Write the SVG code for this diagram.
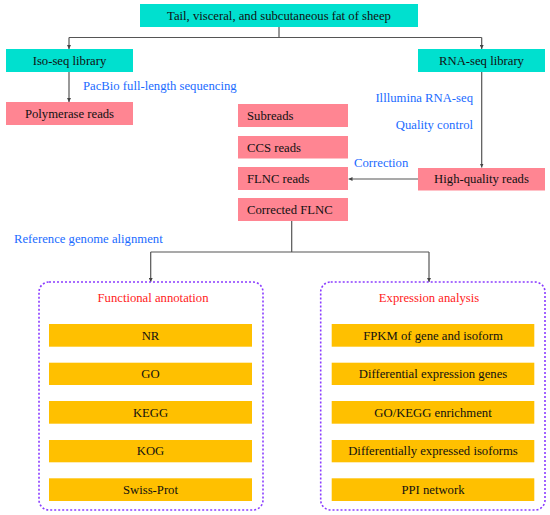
<svg xmlns="http://www.w3.org/2000/svg" width="550" height="515" viewBox="0 0 550 515" font-family="'Liberation Serif', 'Times New Roman', serif">
<defs>
<marker id="ah" viewBox="0 0 6 6" refX="6" refY="3" markerWidth="4" markerHeight="4" orient="auto" markerUnits="userSpaceOnUse">
<path d="M0,0 L6,3 L0,6 z" fill="#444"/>
</marker>
<style>
text{font-family:'Liberation Serif','Times New Roman',serif;font-size:12.7px;fill:#111;text-anchor:middle;dominant-baseline:central}
.cy{fill:#00e0cf}
.pk{fill:#ff8592}
.or{fill:#ffc000}
text.bl{fill:#1a6bff}
text.rd{fill:#ff2222}
.grp{fill:none;stroke:#8a3cff;stroke-width:1.6;stroke-dasharray:2 2}
.cn{fill:none;stroke:#555;stroke-width:1.2}
</style>
</defs>
<rect width="550" height="515" fill="#fff"/>
<g id="connectors">
<path class="cn" d="M279,27 V37.5"/>
<path class="cn" d="M69,37.5 H481.7"/>
<path class="cn" d="M69,37.5 V49" marker-end="url(#ah)"/>
<path class="cn" d="M481.7,37.5 V49" marker-end="url(#ah)"/>
<path class="cn" d="M69,72 V102" marker-end="url(#ah)"/>
<path class="cn" d="M481.7,72 V167.5" marker-end="url(#ah)"/>
<path class="cn" d="M418,179 H348.5" marker-end="url(#ah)"/>
<path class="cn" d="M291.7,221 V252 M150.7,252 H429"/>
<path class="cn" d="M150.7,252 V282" marker-end="url(#ah)"/>
<path class="cn" d="M429,252 V282" marker-end="url(#ah)"/>
</g>
<g id="top"><rect class="cy" x="140" y="4" width="278" height="23"/><text x="279" y="15.5">Tail, visceral, and subcutaneous fat of sheep</text></g>
<g id="iso"><rect class="cy" x="6" y="49" width="127" height="23"/><text x="69.5" y="60.5">Iso-seq library</text></g>
<g id="rna"><rect class="cy" x="418" y="49" width="127" height="23"/><text x="481.5" y="60.5">RNA-seq library</text></g>
<g id="poly"><rect class="pk" x="6" y="102" width="127" height="23"/><text x="69.5" y="113.5">Polymerase reads</text></g>
<g id="sub"><rect class="pk" x="238" y="104" width="110" height="23"/><text x="247" y="115.5" style="text-anchor:start">Subreads</text></g>
<g id="ccs"><rect class="pk" x="238" y="136" width="110" height="22.5"/><text x="247" y="147.5" style="text-anchor:start">CCS reads</text></g>
<g id="flnc"><rect class="pk" x="238" y="167" width="110" height="23"/><text x="247" y="178.5" style="text-anchor:start">FLNC reads</text></g>
<g id="cflnc"><rect class="pk" x="238" y="198" width="110" height="23"/><text x="247" y="209.5" style="text-anchor:start">Corrected FLNC</text></g>
<g id="hq"><rect class="pk" x="418" y="168" width="127" height="22.5"/><text x="481.5" y="179">High-quality reads</text></g>
<g id="labels">
<text class="bl" x="83" y="86" style="text-anchor:start">PacBio full-length sequencing</text>
<text class="bl" x="473" y="98" style="text-anchor:end">Illlumina RNA-seq</text>
<text class="bl" x="473" y="125" style="text-anchor:end">Quality control</text>
<text class="bl" x="354" y="163" style="text-anchor:start">Correction</text>
<text class="bl" x="14" y="239" style="text-anchor:start">Reference genome alignment</text>
</g>
<g id="functional">
<rect class="grp" x="39" y="282" width="224" height="228" rx="10"/>
<text class="rd" x="153" y="298">Functional annotation</text>
<rect class="or" x="49" y="324" width="203" height="22.7"/><text x="150.5" y="335.5">NR</text>
<rect class="or" x="49" y="362.7" width="203" height="22.3"/><text x="150.5" y="374">GO</text>
<rect class="or" x="49" y="401" width="203" height="22.7"/><text x="150.5" y="412.5">KEGG</text>
<rect class="or" x="49" y="440" width="203" height="22.3"/><text x="150.5" y="451">KOG</text>
<rect class="or" x="49" y="478.3" width="203" height="22.7"/><text x="150.5" y="489.7">Swiss-Prot</text>
</g>
<g id="expression">
<rect class="grp" x="320.7" y="282" width="224.3" height="228" rx="10"/>
<text class="rd" x="429" y="298">Expression analysis</text>
<rect class="or" x="331.7" y="324" width="202.6" height="22.7"/><text x="433" y="335.5">FPKM of gene and isoform</text>
<rect class="or" x="331.7" y="362.7" width="202.6" height="22.3"/><text x="433" y="374">Differential expression genes</text>
<rect class="or" x="331.7" y="401" width="202.6" height="22.7"/><text x="433" y="412.5">GO/KEGG enrichment</text>
<rect class="or" x="331.7" y="440" width="202.6" height="22.3"/><text x="433" y="451">Differentially expressed isoforms</text>
<rect class="or" x="331.7" y="478.3" width="202.6" height="22.7"/><text x="433" y="489.7">PPI network</text>
</g>
</svg>
